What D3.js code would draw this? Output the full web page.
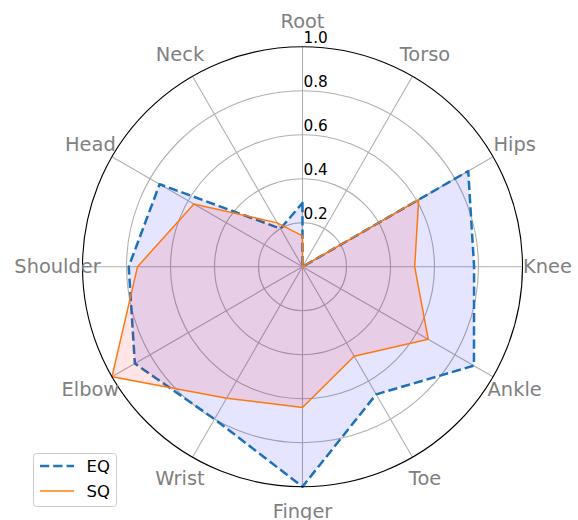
<!DOCTYPE html>
<html>
<head>
<meta charset="utf-8">
<script src="https://cdn.jsdelivr.net/npm/d3@7"></script>
<style>
  html, body { margin: 0; padding: 0; background: #ffffff; }
  svg { display: block; font-family: "DejaVu Sans", sans-serif; }
</style>
</head>
<body>
<svg id="chart" width="578" height="520"></svg>
<script>
const categories = ["Root", "Torso", "Hips", "Knee", "Ankle", "Toe", "Finger", "Wrist", "Elbow", "Shoulder", "Head", "Neck"];
const eqValues = [0.29, 0.0, 0.87, 0.78, 0.90, 0.67, 1.0, 0.80, 0.88, 0.79, 0.75, 0.20];
const sqValues = [0.14, 0.0, 0.61, 0.51, 0.66, 0.47, 0.64, 0.69, 1.0, 0.75, 0.57, 0.23];
const radialTicks = [0.2, 0.4, 0.6, 0.8, 1.0];
const tickLabels = ["0.2", "0.4", "0.6", "0.8", "1.0"];
const seriesNames = ["EQ", "SQ"];

const svg = d3.select("#chart");
const cx = 302.5, cy = 266.7, R = 220;
const g = svg.append("g").attr("transform", `translate(${cx},${cy})`);

const r = d3.scaleLinear().domain([0, 1]).range([0, R]);
const angle = d3.scaleLinear().domain([0, categories.length]).range([0, 2 * Math.PI]);

// grid circles
g.selectAll("circle.grid").data(radialTicks.slice(0, -1)).join("circle")
  .attr("r", d => r(d)).attr("fill", "none")
  .attr("stroke", "#b0b0b0").attr("stroke-width", 1.1);

// spokes
g.selectAll("line.spoke").data(categories).join("line")
  .attr("x1", 0).attr("y1", 0)
  .attr("x2", (d, i) => r(1) * Math.sin(angle(i)))
  .attr("y2", (d, i) => -r(1) * Math.cos(angle(i)))
  .attr("stroke", "#b0b0b0").attr("stroke-width", 1.1);

const radial = d3.lineRadial()
  .angle((d, i) => angle(i))
  .radius(d => r(d))
  .curve(d3.curveLinearClosed);

// EQ
g.append("path").attr("d", radial(eqValues))
  .attr("fill", "none").attr("stroke", "#1f77b4").attr("stroke-width", 2.5)
  .attr("stroke-dasharray", "9.25,4").attr("stroke-linejoin", "round");
g.append("path").attr("d", radial(eqValues))
  .attr("fill", "#0000ff").attr("fill-opacity", 0.1).attr("stroke", "none");

// SQ
g.append("path").attr("d", radial(sqValues))
  .attr("fill", "none").attr("stroke", "#ff7f0e").attr("stroke-width", 1.5)
  .attr("stroke-linejoin", "round");
g.append("path").attr("d", radial(sqValues))
  .attr("fill", "#ff0000").attr("fill-opacity", 0.1).attr("stroke", "none");

// outer circle
g.append("circle").attr("r", r(1)).attr("fill", "none")
  .attr("stroke", "#000000").attr("stroke-width", 1.1);

// radial tick labels
g.selectAll("text.rtick").data(radialTicks).join("text")
  .attr("x", 1).attr("y", d => -r(d) - 3.4)
  .attr("font-size", "15.3px").attr("fill", "#000000")
  .text((d, i) => tickLabels[i]);

// category labels
g.selectAll("text.cat").data(categories).join("text")
  .attr("x", (d, i) => 245 * Math.sin(angle(i)))
  .attr("y", (d, i) => -245 * Math.cos(angle(i)))
  .attr("text-anchor", "middle").attr("dominant-baseline", "central")
  .attr("font-size", "19.4px").attr("fill", "#808080")
  .text(d => d);

// legend
const lg = svg.append("g").attr("transform", "translate(33.5,453.5)");
lg.append("rect").attr("width", 83).attr("height", 53).attr("rx", 3)
  .attr("fill", "#ffffff").attr("fill-opacity", 0.8)
  .attr("stroke", "#cccccc").attr("stroke-width", 1);
const legendItems = [
  { name: seriesNames[0], color: "#1f77b4", width: 2.5, dash: "9.25,4" },
  { name: seriesNames[1], color: "#ff7f0e", width: 1.5, dash: null }
];
legendItems.forEach((it, i) => {
  const y = 12.5 + i * 25;
  lg.append("line").attr("x1", 6.5).attr("x2", 40.5).attr("y1", y).attr("y2", y)
    .attr("stroke", it.color).attr("stroke-width", it.width)
    .attr("stroke-dasharray", it.dash);
  lg.append("text").attr("x", 53).attr("y", y).attr("dominant-baseline", "central")
    .attr("font-size", "16.5px").attr("fill", "#000000").text(it.name);
});
</script>
</body>
</html>
